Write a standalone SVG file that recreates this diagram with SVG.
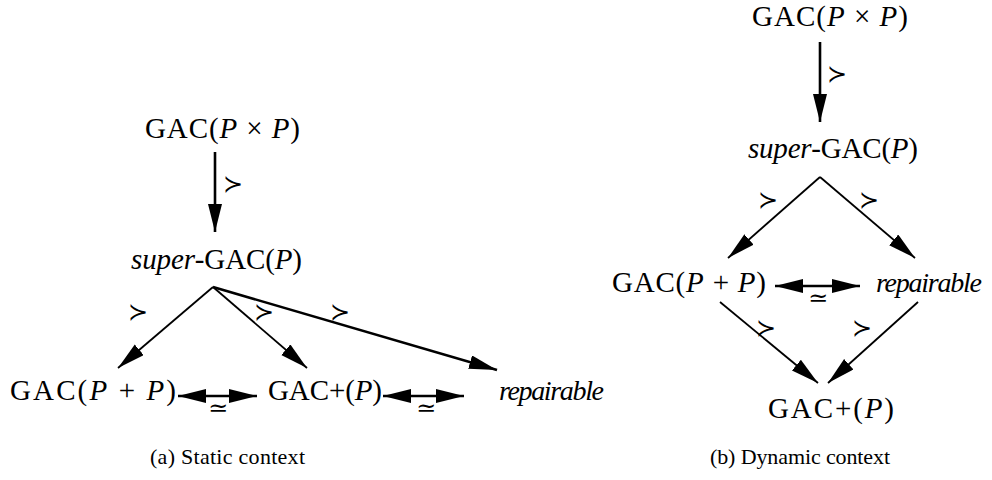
<svg xmlns="http://www.w3.org/2000/svg" width="992" height="480" viewBox="0 0 992 480">
  <style>
    .t { font-family: "Liberation Serif", "Times New Roman", serif; font-size: 29px; fill: #000; }
    .it { font-style: italic; }
    .rp { font-family: "Liberation Serif", "Times New Roman", serif; font-size: 28px; font-style: italic; fill: #000; }
    .sym { font-family: "DejaVu Serif", "DejaVu Sans", serif; font-size: 24px; fill: #000; }
    .cap { font-family: "Liberation Serif", "Times New Roman", serif; font-size: 22px; fill: #000; }
    .e { fill: none; stroke: #000; stroke-width: 1.8; }
    .thick { stroke-width: 2.6; }
  </style>
  <defs>
    <marker id="ah" markerUnits="userSpaceOnUse" markerWidth="30" markerHeight="16" refX="28" refY="7" orient="auto-start-reverse" viewBox="0 0 30 16">
      <path d="M0,0 L28,7 L0,14 z" fill="#000"/>
    </marker>
  </defs>

  <!-- (a) static context -->
  <g id="a-gacpxp"><text class="t" x="145" y="138" textLength="155">GAC(<tspan class="it">P</tspan> × <tspan class="it">P</tspan>)</text></g>
  <g id="a-super"><text class="t" x="131" y="269" textLength="171"><tspan class="it">super</tspan>-GAC(<tspan class="it">P</tspan>)</text></g>
  <g id="a-gacpp"><text class="t" x="10" y="400" textLength="166">GAC(<tspan class="it">P</tspan> + <tspan class="it">P</tspan>)</text></g>
  <g id="a-gacplus"><text class="t" x="268" y="400" textLength="114">GAC+(<tspan class="it">P</tspan>)</text></g>
  <g id="a-repair"><text class="rp" x="499" y="400" textLength="105">repairable</text></g>
  <g id="a-caption"><text class="cap" x="150" y="464" textLength="155">(a) Static context</text></g>

  <!-- (b) dynamic context -->
  <g id="b-gacpxp"><text class="t" x="752" y="26" textLength="156">GAC(<tspan class="it">P</tspan> × <tspan class="it">P</tspan>)</text></g>
  <g id="b-super"><text class="t" x="748" y="158" textLength="170"><tspan class="it">super</tspan>-GAC(<tspan class="it">P</tspan>)</text></g>
  <g id="b-gacpp"><text class="t" x="612" y="292" textLength="154">GAC(<tspan class="it">P</tspan> + <tspan class="it">P</tspan>)</text></g>
  <g id="b-repair"><text class="rp" x="876" y="292" textLength="106">repairable</text></g>
  <g id="b-gacplus"><text class="t" x="768" y="418" textLength="126">GAC+(<tspan class="it">P</tspan>)</text></g>
  <g id="b-caption"><text class="cap" x="710" y="464" textLength="180">(b) Dynamic context</text></g>

  <g id="connectors">
    <!-- static -->
    <line class="e thick" x1="215" y1="152" x2="215" y2="232" marker-end="url(#ah)"/>
    <text class="sym" x="223" y="192">≻</text>
    <line class="e" x1="213" y1="287" x2="118" y2="368" marker-end="url(#ah)"/>
    <text class="sym" x="128" y="320">≻</text>
    <line class="e" x1="213" y1="287" x2="307" y2="368" marker-end="url(#ah)"/>
    <text class="sym" x="254" y="320">≻</text>
    <line class="e thick" x1="213" y1="287" x2="497" y2="370" marker-end="url(#ah)"/>
    <text class="sym" x="330" y="320">≻</text>
    <line class="e thick" x1="178" y1="396" x2="257" y2="396" marker-start="url(#ah)" marker-end="url(#ah)"/>
    <text class="sym" x="208" y="416">≃</text>
    <line class="e thick" x1="383" y1="396" x2="464" y2="396" marker-start="url(#ah)" marker-end="url(#ah)"/>
    <text class="sym" x="416" y="416">≃</text>

    <!-- dynamic -->
    <line class="e thick" x1="820" y1="42" x2="820" y2="122" marker-end="url(#ah)"/>
    <text class="sym" x="827" y="82">≻</text>
    <line class="e" x1="820" y1="177" x2="728" y2="258" marker-end="url(#ah)"/>
    <text class="sym" x="758" y="208">≻</text>
    <line class="e" x1="820" y1="177" x2="915" y2="258" marker-end="url(#ah)"/>
    <text class="sym" x="859" y="208">≻</text>
    <line class="e thick" x1="775" y1="286" x2="860" y2="286" marker-start="url(#ah)" marker-end="url(#ah)"/>
    <text class="sym" x="808" y="306">≃</text>
    <line class="e" x1="720" y1="302" x2="818" y2="383" marker-end="url(#ah)"/>
    <text class="sym" x="756" y="336">≻</text>
    <line class="e" x1="918" y1="302" x2="828" y2="383" marker-end="url(#ah)"/>
    <text class="sym" x="852" y="336">≻</text>
  </g>
</svg>
